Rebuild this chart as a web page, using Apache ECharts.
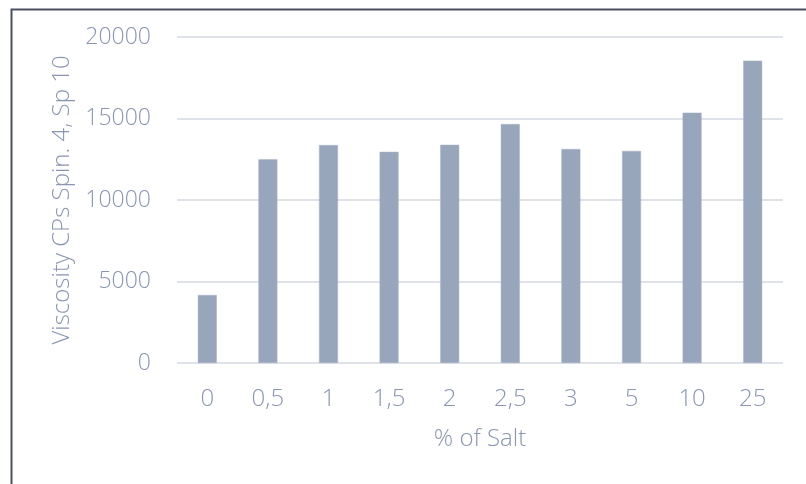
<!DOCTYPE html>
<html>
<head>
<meta charset="utf-8">
<style>
  html, body { margin: 0; padding: 0; background: #ffffff; }
  #chart { width: 806px; height: 484px; }
</style>
<script src="https://cdn.jsdelivr.net/npm/echarts@6/dist/echarts.min.js"></script>
</head>
<body>
<div id="chart"></div>
<script>
// Salt percentage categories and measured viscosity
const saltLevels = ['0', '0,5', '1', '1,5', '2', '2,5', '3', '5', '10', '25'];
const viscosity = [4170, 12500, 13370, 12960, 13390, 14660, 13130, 13010, 15360, 18550];
const yTicks = [0, 5000, 10000, 15000, 20000];

const textColor = '#8a95b0';
const fontFamily = '"Open Sans", "Noto Sans", sans-serif';

const chart = echarts.init(document.getElementById('chart'), null, { renderer: 'canvas' });

chart.setOption({
  animation: false,
  backgroundColor: '#ffffff',
  graphic: [{
    type: 'rect',
    left: 9, top: 7,
    shape: { width: 820, height: 500 },
    style: { fill: 'none', stroke: '#4b5061', lineWidth: 2 },
    silent: true
  }],
  grid: { left: 177, right: 23, top: 37, bottom: 121 },
  xAxis: {
    type: 'category',
    data: saltLevels,
    name: '% of Salt',
    nameLocation: 'middle',
    nameGap: 64,
    nameTextStyle: { color: textColor, fontSize: 24, fontFamily, fontWeight: 300 },
    axisLine: { show: false },
    axisTick: { show: false },
    axisLabel: { color: textColor, fontSize: 24, fontFamily, fontWeight: 300, margin: 24 }
  },
  yAxis: {
    type: 'value',
    min: yTicks[0],
    max: yTicks[yTicks.length - 1],
    interval: yTicks[1] - yTicks[0],
    name: 'Viscosity CPs Spin. 4, Sp 10',
    nameLocation: 'middle',
    nameGap: 102,
    nameTextStyle: { color: textColor, fontSize: 24, fontFamily, fontWeight: 300 },
    axisLine: { show: false },
    axisTick: { show: false },
    axisLabel: {
      color: textColor, fontSize: 23, fontFamily, fontWeight: 300, margin: 26,
      formatter: v => String(v)
    },
    splitLine: { lineStyle: { color: '#dfe2e9', width: 2 } }
  },
  series: [{
    type: 'bar',
    data: viscosity,
    barWidth: 19,
    itemStyle: { color: '#98a6bb', borderColor: '#a9b5c7', borderWidth: 0.5 }
  }]
});
</script>
</body>
</html>
